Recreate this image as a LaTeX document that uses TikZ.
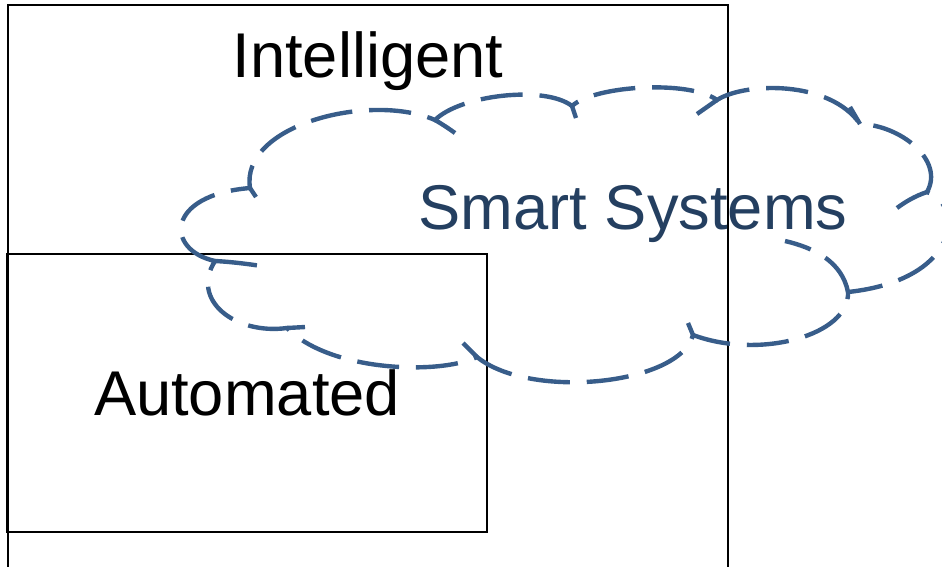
\documentclass[tikz,border=0pt]{standalone}
\usepackage{fontspec}
\setmainfont{Liberation Sans}
\usepackage{tikz}

\definecolor{cloudblue}{RGB}{56,93,138}
\definecolor{cloudtext}{RGB}{36,63,96}

\begin{document}
\begin{tikzpicture}[x=0.02cm,y=-0.02cm]

	\tikzstyle box=[draw=black,line width=0.85pt];
	\tikzstyle cloud line=[draw=cloudblue,line width=2.5pt,dash pattern=on 24pt off 9.6pt];
	\tikzstyle big label=[font=\fontsize{36}{43}\selectfont,anchor=base,inner sep=0pt];

	\useasboundingbox (0,0) rectangle (942,566);
	\clip (0,0) rectangle (942,566);

	% the two boxes
	\draw[box] (8,5) rectangle (728,600);
	\draw[box] (7,254) rectangle (487,532);

	\node[big label] (intelligent) at (368,77) {Intelligent};
	\node[big label] (automated) at (247,415) {Automated};

	% cloud: outer lobes
	\draw[cloud line] (215,261)
		.. controls (165,250) and (165,195) .. (250,188)
		.. controls (240,125) and (370,92) .. (435,120)
		.. controls (460,95) and (545,85) .. (572,106)
		.. controls (595,85) and (690,80) .. (717,100)
		.. controls (745,82) and (830,80) .. (860,124)
		.. controls (900,125) and (945,160) .. (927,192)
		.. controls (965,205) and (960,280) .. (848,292)
		.. controls (850,335) and (760,360) .. (693,335)
		.. controls (680,385) and (530,400) .. (477,357)
		.. controls (440,375) and (330,372) .. (287,328)
		.. controls (235,335) and (190,300) .. (215,261);

	% cloud: inner arcs
	\draw[cloud line] (215,261) .. controls (235,262) and (255,265) .. (268,267);
	\draw[cloud line] (250,188) -- (256,197);
	\draw[cloud line] (435,120) .. controls (442,124) and (448,128) .. (455,133);
	\draw[cloud line] (572,106) -- (576,118);
	\draw[cloud line] (717,100) -- (697,114);
	\draw[cloud line] (860,124) -- (850,107);
	\draw[cloud line] (927,192) .. controls (915,196) and (905,202) .. (897,208);
	\draw[cloud line] (848,292) .. controls (842,262) and (815,248) .. (785,241);
	\draw[cloud line] (693,335) -- (688,323);
	\draw[cloud line] (477,357) -- (463,343);
	\draw[cloud line] (287,328) -- (305,327);

	\node[big label,text=cloudtext] (smart) at (633,229) {Smart Systems};

\end{tikzpicture}
\end{document}
